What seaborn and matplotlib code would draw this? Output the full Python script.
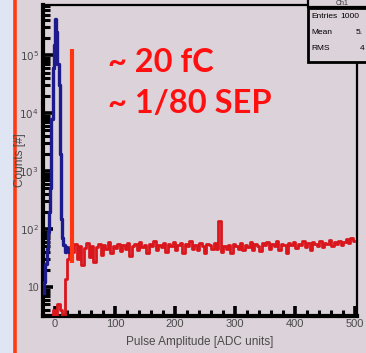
import numpy as np
import matplotlib
matplotlib.use("Agg")
import matplotlib.pyplot as plt
import seaborn as sns
from matplotlib.patches import Rectangle
from matplotlib.lines import Line2D
from matplotlib.ticker import LogLocator, FixedLocator, MultipleLocator, NullFormatter

# ---------------- data ----------------
# blue (pedestal) histogram, bin width 2 ADC, first bin centre -19
blue_start, blue_width = -19, 2
blue_counts = [8, 12, 25, 45, 90, 200, 500, 8000, 60000, 150000, 420000, 250000,
               70000, 30000, 2000, 150, 70, 52, 40, 48, 42, 45, 40, 44]

# red (threshold-applied) histogram, bin width 4 ADC, first bin centre -18
red_start, red_width = -18, 4
red_counts = [0, 0, 0, 0, 4, 0, 5, 4, 0,
              14, 30, 48,
              40, 55, 30, 50, 24, 47, 58, 33, 50, 27,
              48, 55, 36, 52, 45, 60, 38, 50, 47, 56,
              42, 52, 46, 58, 34, 50, 55, 43, 60, 48,
              52, 38, 55, 50, 62, 44, 53, 48, 58, 40,
              55, 50, 60, 44, 52, 57, 38, 55, 50, 62,
              46, 53, 43, 58, 50, 38, 55, 52, 46, 57,
              45, 140, 40, 50, 45, 52, 39, 55, 50, 46,
              58, 43, 52, 48, 60, 44, 55, 50, 41, 57,
              52, 60, 46, 55, 50, 62, 44, 56, 52, 39,
              58, 53, 60, 47, 56, 52, 62, 49, 57, 44,
              60, 55, 51, 62, 49, 58, 55, 65, 51, 60,
              56, 63, 54, 60, 66, 57, 70, 62]

threshold_adc = 28
threshold_range = (26, 125000)

annot_lines = ["~ 20 fC", "~ 1/80 SEP"]
x_label = "Pulse Amplitude [ADC units]"
y_label = "Counts [#]"
x_ticks = [0, 100, 200, 300, 400, 500]
y_ticks = [10, 100, 1000, 10000, 100000]
y_ticklabels = ["10", r"$10^{2}$", r"$10^{3}$", r"$10^{4}$", r"$10^{5}$"]
stats_title = "Ch1"
stats_labels = ["Entries", "Mean", "RMS"]
stats_values = ["1000", "5.", "4"]

blue_x = blue_start + blue_width * np.arange(len(blue_counts))
red_x = red_start + red_width * np.arange(len(red_counts))

# ---------------- figure ----------------
W, H = 366, 353
bg = "#dcd2d9"
fig = plt.figure(figsize=(W / 100, H / 100), dpi=100)
fig.patch.set_facecolor(bg)

def px(x0, y0, x1, y1):
    return [x0 / W, 1 - y1 / H, (x1 - x0) / W, (y1 - y0) / H]

# left strip
fig.patches.append(Rectangle((0, 0), 14 / W, 1, transform=fig.transFigure,
                             facecolor="#dfe5f3", edgecolor="none", zorder=0))
fig.lines.append(Line2D([15 / W, 15 / W], [0, 1], transform=fig.transFigure,
                        color="#ff3a12", lw=2.6, zorder=1))

ax = fig.add_axes(px(43, 5, 357, 316))
ax.set_facecolor(bg)
ax.set_yscale("log")

sns.lineplot(x=red_x, y=red_counts, ax=ax, drawstyle="steps-mid",
             color="#d8161c", lw=2.0, zorder=3)
sns.lineplot(x=blue_x, y=blue_counts, ax=ax, drawstyle="steps-mid",
             color="#1c1a8c", lw=2.4, zorder=4)
ax.vlines(threshold_adc, *threshold_range, color="#ff3510", lw=3.0, zorder=5)

ax.set_xlim(-20, 503)
ax.set_ylim(3.16, 7.3e5)

# spines
for s in ["left", "bottom"]:
    ax.spines[s].set_linewidth(3.0)
for s in ["top", "right"]:
    ax.spines[s].set_linewidth(1.6)
for s in ax.spines.values():
    s.set_color("black")

ax.xaxis.set_major_locator(FixedLocator(x_ticks))
ax.xaxis.set_minor_locator(MultipleLocator(20))
ax.yaxis.set_major_locator(FixedLocator(y_ticks))
ax.yaxis.set_minor_locator(LogLocator(base=10, subs=np.arange(2, 10)))
ax.yaxis.set_minor_formatter(NullFormatter())
ax.set_xticklabels([str(t) for t in x_ticks])
ax.set_yticklabels(y_ticklabels)

ax.tick_params(axis="both", which="major", direction="in", length=7, width=2.6,
               color="black", labelcolor="#4a4a4a", labelsize=8,
               top=False, right=False)
ax.tick_params(axis="both", which="minor", direction="in", length=4, width=2.2,
               color="black", top=False, right=False)
ax.tick_params(axis="y", which="minor", length=5)
ax.tick_params(axis="y", which="major", labelsize=7.5, pad=3)
ax.tick_params(axis="x", which="major", pad=2)
for lab in ax.get_xticklabels() + ax.get_yticklabels():
    lab.set_fontfamily("Liberation Sans")

ax.set_xlabel(x_label, fontsize=8.5, color="#4a4a4a", family="Liberation Sans", labelpad=5)
fig.text(20 / W, 1 - 160 / H, y_label, rotation=90, fontsize=8.5, color="#4a4a4a",
         family="Liberation Sans", ha="center", va="center", zorder=20)

# annotation
fig.text(108 / W, 1 - 72 / H, annot_lines[0], color="#ff1010", fontsize=23.5,
         fontweight="bold", family="Lato", va="baseline", ha="left")
fig.text(108 / W, 1 - 113 / H, annot_lines[1], color="#ff1010", fontsize=23.5,
         fontweight="bold", family="Lato", va="baseline", ha="left")

# stats box
fig.patches.append(Rectangle((308 / W, 1 - 62 / H), 0.2, 54 / H, transform=fig.transFigure,
                             facecolor=bg, edgecolor="black", lw=2.0, zorder=10))
fig.patches.append(Rectangle((308 / W, 1 - 7 / H), 0.2, 0.1, transform=fig.transFigure,
                             facecolor=bg, edgecolor="black", lw=1.6, zorder=10))
fig.text(336 / W, 1 - 3.5 / H, stats_title, fontsize=5, color="#333333",
         family="Liberation Sans", va="center", ha="left", zorder=11)
val_x = [340, 356, 360]
for i, (lab, val) in enumerate(zip(stats_labels, stats_values)):
    yy = 1 - (16 + 16 * i) / H
    fig.text(311 / W, yy, lab, fontsize=6, color="black", family="Liberation Sans",
             va="center", ha="left", zorder=11)
    fig.text(val_x[i] / W, yy, val, fontsize=6, color="black",
             family="Liberation Sans", va="center", ha="left", zorder=11)

fig.savefig("out.png", dpi=100, facecolor=fig.get_facecolor())
